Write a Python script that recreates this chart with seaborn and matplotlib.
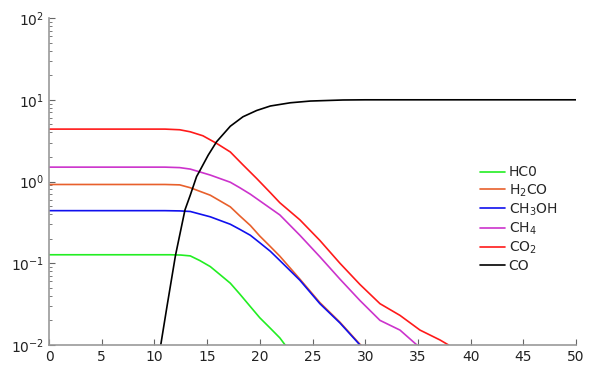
import seaborn as sns
import matplotlib.pyplot as plt
import pandas as pd
import numpy as np

# values (time vs abundance, log y)
hco_t = [0, 11.5, 12.5, 13.4, 14.3, 15.3, 16.2, 17.2, 18.1, 19.1, 20, 21, 21.9, 22.4, 23]
hco_y = [0.127, 0.127, 0.126, 0.123, 0.108, 0.091, 0.073, 0.057, 0.042, 0.0295, 0.0215, 0.016, 0.0122, 0.010, 0.008]

h2co_t = [0, 11, 12.4, 13.4, 15.3, 17.2, 18.1, 19.1, 20, 21, 21.9, 23.8, 25.7, 27.6, 29.5, 30]
h2co_y = [0.92, 0.92, 0.91, 0.84, 0.68, 0.49, 0.38, 0.29, 0.215, 0.16, 0.122, 0.064, 0.033, 0.019, 0.0102, 0.0088]

ch3oh_t = [0, 11, 12.4, 13.4, 15.3, 17.2, 18.1, 19.1, 20, 21, 21.9, 23.8, 25.7, 27.6, 29.5, 30]
ch3oh_y = [0.44, 0.44, 0.437, 0.43, 0.37, 0.30, 0.26, 0.22, 0.178, 0.14, 0.108, 0.062, 0.032, 0.0186, 0.010, 0.0088]

ch4_t = [0, 11, 12.4, 13.4, 15.3, 17.2, 18.1, 19.1, 20, 21.9, 23.8, 25.7, 27.6, 29.5, 31.4, 33.3, 34.9, 35.5]
ch4_y = [1.5, 1.5, 1.48, 1.42, 1.2, 0.98, 0.84, 0.70, 0.58, 0.39, 0.22, 0.12, 0.064, 0.035, 0.020, 0.0152, 0.010, 0.0085]

co2_t = [0, 11, 12.4, 13.4, 14.6, 15.9, 17.2, 18.4, 19.7, 21, 21.9, 23.8, 25.7, 27.6, 29.5, 31.4, 33.3, 35.2, 37.1, 37.9, 38.5]
co2_y = [4.38, 4.38, 4.3, 4.06, 3.63, 2.93, 2.3, 1.6, 1.09, 0.73, 0.55, 0.34, 0.19, 0.10, 0.055, 0.032, 0.023, 0.0152, 0.0115, 0.010, 0.0088]

co_t = [10.4, 10.6, 11.2, 12.0, 12.9, 13.4, 14.0, 14.3, 15.1, 15.9, 17.2, 18.4, 19.7, 21, 22.9, 24.8, 27.9, 30, 35, 40, 45, 50]
co_y = [0.008, 0.01, 0.030, 0.125, 0.45, 0.68, 1.15, 1.35, 2.1, 3.07, 4.75, 6.2, 7.4, 8.4, 9.2, 9.66, 9.95, 10, 10, 10, 10, 10]

species = ['HC0', 'H$_2$CO', 'CH$_3$OH', 'CH$_4$', 'CO$_2$', 'CO']
colors = ['#22ee22', '#e8602c', '#1010ee', '#cc33cc', '#ff1a1a', '#000000']

series = [(hco_t, hco_y), (h2co_t, h2co_y), (ch3oh_t, ch3oh_y),
          (ch4_t, ch4_y), (co2_t, co2_y), (co_t, co_y)]
frames = []
for name, (t, y) in zip(species, series):
    frames.append(pd.DataFrame({'t': t, 'value': y, 'species': name}))
df = pd.concat(frames, ignore_index=True)

sns.set_style('ticks')
plt.rcParams['font.family'] = ['DejaVu Sans']

fig = plt.figure(figsize=(6, 3.77), dpi=100)
ax = fig.add_axes([0.0817, 0.085, 0.8783, 0.867])

sns.lineplot(data=df, x='t', y='value', hue='species', hue_order=species,
             palette=dict(zip(species, colors)), estimator=None, sort=False,
             linewidth=1.2, ax=ax)

ax.set_yscale('log')
ax.set_ylim(0.01, 100)
ax.set_xlim(0, 50)
ax.set_xticks(np.arange(0, 51, 5))
ax.set_xlabel('')
ax.set_ylabel('')

ax.spines['top'].set_visible(False)
ax.spines['right'].set_visible(False)
for s in ['left', 'bottom']:
    ax.spines[s].set_color('#999999')
    ax.spines[s].set_linewidth(1.2)
ax.tick_params(axis='both', which='major', direction='in', length=4,
               color='#666666', labelsize=10, labelcolor='#222222')
ax.tick_params(axis='y', which='minor', direction='in', length=2, color='#666666')
ax.tick_params(axis='x', which='minor', bottom=False)

ax.legend(loc='center left', bbox_to_anchor=(0.805, 0.385), frameon=False,
          fontsize=10, handlelength=1.8, handletextpad=0.25, labelspacing=0.2,
          borderpad=0)

plt.savefig('out.png', dpi=100)
